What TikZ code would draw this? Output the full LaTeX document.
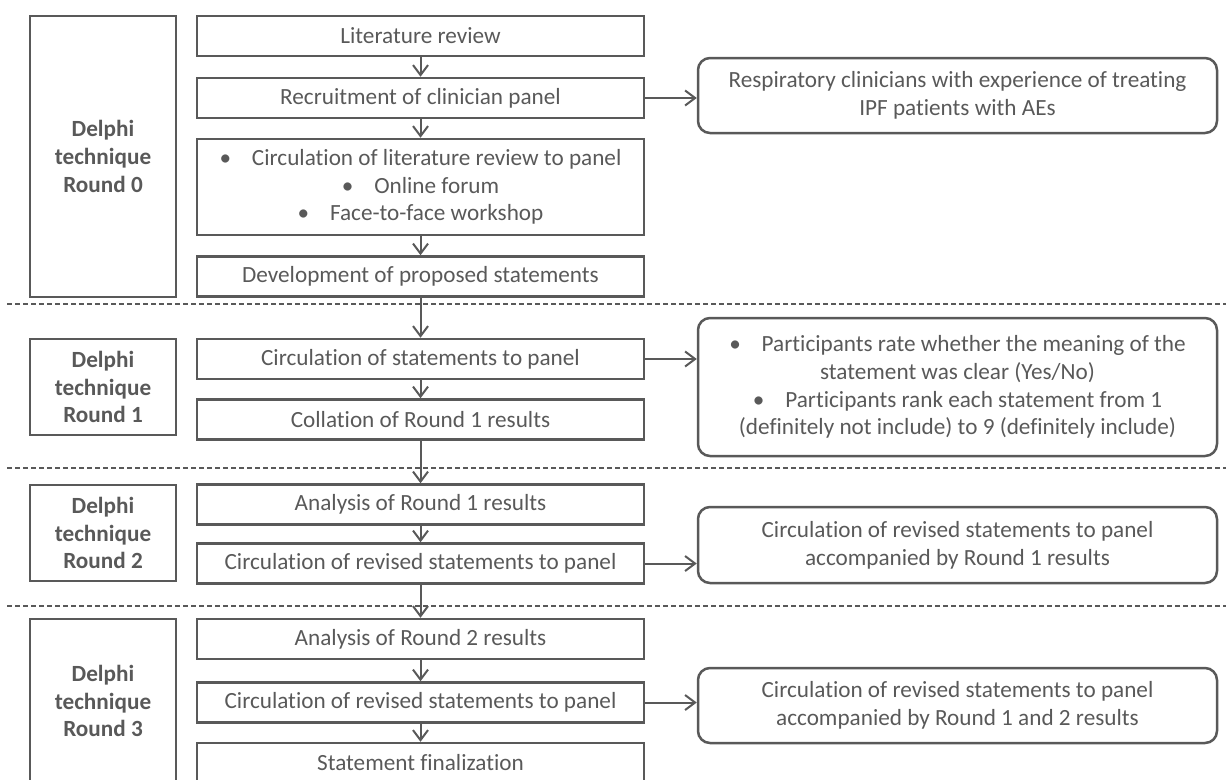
\documentclass[tikz,border=0pt]{standalone}
\usepackage{fontspec}
\setmainfont{Carlito}[Ligatures=NoCommon]
\usetikzlibrary{positioning, arrows.meta}
\definecolor{linegray}{HTML}{595959}

\begin{document}
\begin{tikzpicture}[x=1pt,y=-1pt,
  every node/.style={text=linegray, font=\fontsize{23.2}{27.7}\selectfont},
  stepbox/.style={draw=linegray, line width=2.5pt, minimum width=447pt, minimum height=40pt, inner sep=0pt, align=center},
  roundbox/.style={draw=linegray, line width=2.5pt, minimum width=146pt, inner sep=0pt, align=center, font=\fontsize{23.2}{27.7}\selectfont\bfseries},
  notebox/.style={draw=linegray, line width=2.5pt, rounded corners=12pt, minimum width=519pt, inner sep=0pt, align=center},
  flow/.style={draw=linegray, line width=2pt, -{Straight Barb[length=10pt,width=15pt]}},
  sep/.style={draw=linegray, line width=1.2pt, dash pattern=on 5pt off 3pt}]
  \clip (0,0) rectangle (1226,779);

  % round labels
  \node[roundbox, minimum height=281pt] (round0) at (103,156.5) {Delphi\\technique\\Round 0};
  \node[roundbox, minimum height=96pt] (round1) at (103,387) {Delphi\\technique\\Round 1};
  \node[roundbox, minimum height=96pt] (round2) at (103,533) {Delphi\\technique\\Round 2};
  \node[roundbox, minimum height=164pt] (round3) at (103,701) {Delphi\\technique\\Round 3};

  % separators
  \foreach \y in {304,468,606}
    \draw[sep] (7,\y) -- (1226,\y);

  % main steps
  \node[stepbox] (lit) at (420.5,36) {Literature review};
  \node[stepbox] (recruit) at (420.5,98) {Recruitment of clinician panel};
  \node[stepbox, minimum height=96pt] (forum) at (420.5,187) {\textbullet\hspace{0.9em}Circulation of literature review to panel\\\textbullet\hspace{0.9em}Online forum\\\textbullet\hspace{0.9em}Face-to-face workshop};
  \node[stepbox] (develop) at (420.5,276.5) {Development of proposed statements};
  \node[stepbox] (stmts) at (420.5,359) {Circulation of statements to panel};
  \node[stepbox] (collate) at (420.5,419.5) {Collation of Round 1 results};
  \node[stepbox] (analysis1) at (420.5,504.5) {Analysis of Round 1 results};
  \node[stepbox] (revised1) at (420.5,563.5) {Circulation of revised statements to panel};
  \node[stepbox] (analysis2) at (420.5,639) {Analysis of Round 2 results};
  \node[stepbox] (revised2) at (420.5,702.5) {Circulation of revised statements to panel};
  \node[stepbox] (final) at (420.5,763) {Statement finalization};

  % side notes
  \node[notebox, minimum height=75pt] (note0) at (957.5,95.5) {Respiratory clinicians with experience of treating\\IPF patients with AEs};
  \node[notebox, minimum height=138pt] (note1) at (957.5,387) {\textbullet\hspace{0.9em}Participants rate whether the meaning of the\\statement was clear (Yes/No)\\\textbullet\hspace{0.9em}Participants rank each statement from 1\\(definitely not include) to 9 (definitely include)};
  \node[notebox, minimum height=76pt] (note2) at (957.5,545) {Circulation of revised statements to panel\\accompanied by Round 1 results};
  \node[notebox, minimum height=75pt] (note3) at (957.5,705.5) {Circulation of revised statements to panel\\accompanied by Round 1 and 2 results};

  \draw[flow] (lit) -- (recruit);
  \draw[flow] (recruit) -- (forum);
  \draw[flow] (forum) -- (develop);
  \draw[flow] (develop) -- (stmts);
  \draw[flow] (stmts) -- (collate);
  \draw[flow] (collate) -- (analysis1);
  \draw[flow] (analysis1) -- (revised1);
  \draw[flow] (revised1) -- (analysis2);
  \draw[flow] (analysis2) -- (revised2);
  \draw[flow] (revised2) -- (final);

  \draw[flow] (recruit.east) -- (recruit.east -| note0.west);
  \draw[flow] (stmts.east) -- (stmts.east -| note1.west);
  \draw[flow] (revised1.east) -- (revised1.east -| note2.west);
  \draw[flow] (revised2.east) -- (revised2.east -| note3.west);
\end{tikzpicture}
\end{document}
